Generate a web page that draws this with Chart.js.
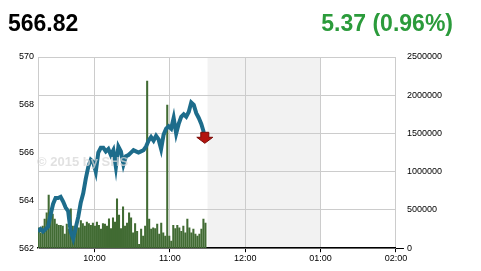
<!DOCTYPE html>
<html>
<head>
<meta charset="utf-8">
<script src="https://cdn.jsdelivr.net/npm/chart.js@4.4.0/dist/chart.umd.min.js"></script>
<style>
  body { margin: 0; background: #fff; }
  #wrap { position: relative; width: 481px; height: 271px; }
  .big { position: absolute; top: 10px; font: bold 23px "Liberation Sans", Arial, sans-serif; }
  #last { left: 8px; color: #000; }
  #change { right: 28px; color: #2b9b3b; }
</style>
</head>
<body>
<div id="wrap">
  <canvas id="myChart" width="481" height="271"></canvas>
  <div class="big" id="last">566.82</div>
  <div class="big" id="change">5.37 (0.96%)</div>
</div>
<script>
// time is in minutes after midnight
var priceStart = 555, priceStep = 2,
    volStart = 555.5, volStep = 1.6,
    lunchFrom = 690, lunchTo = 780,
    hourTicks = [600, 660, 720, 780, 840],
    hourLabels = ["10:00", "11:00", "12:00", "01:00", "02:00"]

var prices = [
    562.7, 562.8, 562.7, 562.8, 562.9, 563.4, 563.85, 564.1, 564.1, 564.15,
    563.95, 563.7, 563.55, 562.7, 562.4, 562.85, 563.3, 563.9, 564.3, 564.9,
    565.4, 565.7, 565.6, 565.2, 566.0, 566.2, 566.2, 566.05, 566.15, 565.9,
    566.1, 565.4, 566.25, 566.05, 565.5, 565.85, 565.9, 566.0, 566.1, 566.05,
    566.0, 566.05, 566.1, 566.25, 566.5, 566.65, 566.5, 566.7, 566.55, 566.15,
    566.75, 567.0, 567.1, 567.0, 567.45, 566.8, 567.2, 567.5, 567.6, 567.5,
    567.7, 568.1, 568.0, 567.65, 567.45, 567.2, 566.85
];

// volume in thousands
var volumes = [
    266, 200, 288, 380, 462, 694, 420, 445, 380, 314, 300, 300, 288, 183, 314,
    250, 515, 288, 157, 322, 266, 360, 322, 288, 340, 322, 300, 330, 288, 340,
    300, 250, 322, 314, 288, 384, 256, 397, 340, 646, 432, 256, 541, 288, 330,
    462, 397, 200, 322, 222, 52, 250, 157, 288, 2186, 380, 250, 266, 256, 314,
    183, 330, 200, 157, 1872, 157, 92, 300, 256, 300, 266, 222, 288, 200, 380,
    266, 200, 250, 183, 157, 183, 250, 380, 330
];

var tickFont = { family: "'Liberation Sans', Arial, sans-serif", size: 9 };

//grey lunch break band
var lunchBand = {
    id: 'lunchBand',
    beforeDraw: function (chart) {
        var ctx = chart.ctx, area = chart.chartArea, x = chart.scales.x;
        var x1 = x.getPixelForValue(lunchFrom), x2 = x.getPixelForValue(lunchTo);
        ctx.save();
        ctx.fillStyle = '#f2f2f2';
        ctx.fillRect(x1, area.top, x2 - x1, area.bottom - area.top);
        ctx.restore();
    }
};

//red down arrow on the last price, then the copyright text over everything
var overlay = {
    id: 'overlay',
    afterDatasetsDraw: function (chart) {
        var pts = chart.getDatasetMeta(0).data;
        var p = pts[pts.length - 1];
        var ctx = chart.ctx, cx = p.x + 1, top = p.y, area = chart.chartArea;
        ctx.save();
        ctx.fillStyle = '#b3140f';
        ctx.strokeStyle = '#7a0a05';
        ctx.lineWidth = 1;
        ctx.beginPath();
        ctx.moveTo(cx - 4, top);
        ctx.lineTo(cx + 4, top);
        ctx.lineTo(cx + 4, top + 5);
        ctx.lineTo(cx + 8, top + 5);
        ctx.lineTo(cx, top + 11);
        ctx.lineTo(cx - 8, top + 5);
        ctx.lineTo(cx - 4, top + 5);
        ctx.closePath();
        ctx.fill();
        ctx.stroke();

        ctx.fillStyle = 'rgba(215,215,215,0.75)';
        ctx.font = "bold 13px 'Liberation Sans', Arial, sans-serif";
        ctx.textBaseline = 'middle';
        ctx.fillText('\u00a9 2015 by SHS', area.left - 1, 162);
        ctx.restore();
    }
};

var ctx = document.getElementById("myChart");
new Chart(ctx, {
    type: "bar",
    data: {
        datasets: [{
            type: "line",
            data: prices.map(function (p, i) { return { x: priceStart + i * priceStep, y: p }; }),
            yAxisID: "y",
            borderColor: "#1d6c8b",
            borderWidth: 4,
            pointRadius: 0,
            tension: 0,
            order: 0
        }, {
            type: "bar",
            data: volumes.map(function (v, i) { return { x: volStart + i * volStep, y: v * 1000 }; }),
            yAxisID: "y1",
            backgroundColor: "#416b33",
            barThickness: 1.4,
            grouped: false,
            order: 1
        }]
    },
    plugins: [lunchBand, overlay],
    options: {
        responsive: false,
        animation: false,
        layout: { padding: { left: 15, right: 36, top: 57, bottom: 6 } },
        plugins: { legend: { display: false }, tooltip: { enabled: false } },
        scales: {
            x: {
                type: "linear",
                min: 555,
                max: 840,
                offset: false,
                afterBuildTicks: function (axis) {
                    axis.ticks = hourTicks.map(function (v) { return { value: v }; });
                },
                ticks: {
                    font: tickFont,
                    color: "#000",
                    padding: 1,
                    maxRotation: 0,
                    callback: function (v) { return hourLabels[hourTicks.indexOf(v)]; }
                },
                grid: { color: "#cccccc", tickColor: "#000", tickLength: 4, offset: false },
                border: { color: "#000", width: 1.5 }
            },
            y: {
                position: "left",
                min: 562,
                max: 570,
                ticks: { stepSize: 2, font: tickFont, color: "#000", padding: 4 },
                grid: { display: false, drawTicks: false },
                border: { color: "#cccccc", width: 1 }
            },
            y1: {
                position: "right",
                min: 0,
                max: 2500000,
                ticks: {
                    stepSize: 500000, font: tickFont, color: "#000", padding: 3,
                    callback: function (v) { return String(v); }
                },
                grid: {
                    color: "#cccccc",
                    tickLength: 8,
                    tickColor: function (c) { return c.tick && c.tick.value === 0 ? "#000" : "rgba(0,0,0,0)"; }
                },
                border: { display: false }
            }
        }
    }
});
</script>
</body>
</html>
